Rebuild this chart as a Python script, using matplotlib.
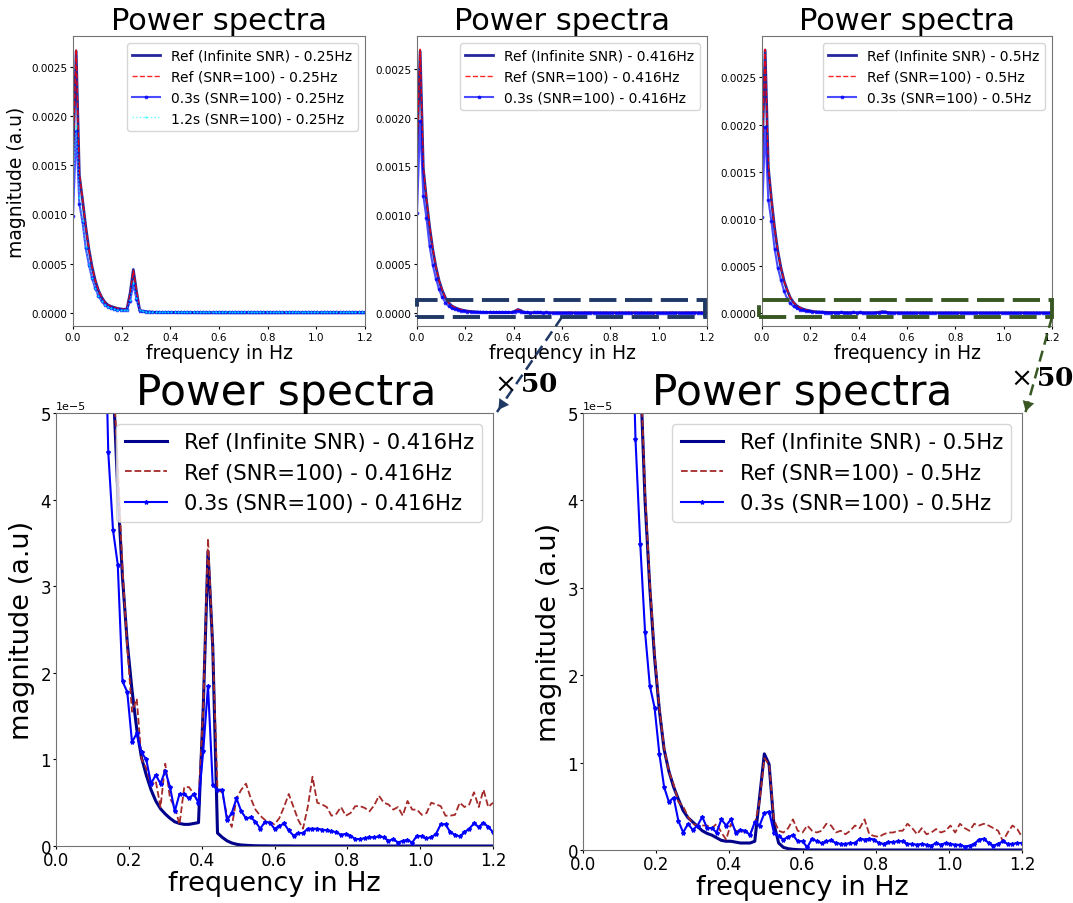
import numpy as np
import matplotlib as mpl
import matplotlib.pyplot as plt
from matplotlib.lines import Line2D
from matplotlib.patches import Rectangle, FancyArrowPatch

mpl.rcParams['mathtext.fontset'] = 'dejavuserif'

W, H = 1073, 904

# frequency grid (Hz) shared by all spectra
freq = np.linspace(0, 1.2, 93)
scale = 1e-5  # magnitudes below are given in units of 1e-5

# ---- 0.25 Hz ----
ref_inf_025 = [160, 266, 140, 115, 88, 65, 47, 33, 23, 16,
               11, 8, 6.5, 5.5, 4.5, 4, 3.5, 4, 20, 44,
               22, 3, 1.5, 1.0, 0.8, 0.6, 0.5, 0.4, 0.3, 0.3,
               0.25, 0.2, 0.2, 0.15, 0.15, 0.1, 0.1, 0.1, 0.1, 0.08,
               0.08, 0.06, 0.05, 0.05, 0.04, 0.03, 0.03, 0.02, 0.02, 0.02,
               0.02, 0.01, 0.01, 0.01, 0.01, 0.01, 0.01, 0.01, 0.01, 0.01,
               0, 0, 0, 0, 0, 0, 0, 0, 0, 0,
               0, 0, 0, 0, 0, 0, 0, 0, 0, 0,
               0, 0, 0, 0, 0, 0, 0, 0, 0, 0,
               0, 0, 0]
ref_snr_025 = [158, 268, 142, 116, 88, 65, 47, 33, 23, 16,
               11, 8, 6.6, 5.5, 4.6, 4, 3.6, 4.2, 19, 43,
               23, 3.2, 1.8, 1.2, 0.9, 0.8, 0.7, 0.6, 0.5, 0.6,
               0.4, 0.5, 0.6, 0.4, 0.5, 0.7, 0.4, 0.5, 0.4, 0.6,
               0.5, 0.4, 0.6, 0.5, 0.4, 0.5, 0.7, 0.5, 0.4, 0.5,
               0.6, 0.4, 0.5, 0.5, 0.6, 0.4, 0.5, 0.7, 0.5, 0.4,
               0.5, 0.6, 0.4, 0.5, 0.5, 0.6, 0.4, 0.5, 0.6, 0.5,
               0.4, 0.5, 0.6, 0.5, 0.7, 0.5, 0.4, 0.5, 0.5, 0.6,
               0.5, 0.4, 0.5, 0.6, 0.5, 0.4, 0.6, 0.5, 0.5, 0.4,
               0.5, 0.6, 0.5]
win03_025 = [98, 185, 111, 92, 66, 49, 35, 25, 17, 12,
             8, 6, 4.5, 3.5, 3, 3, 2.5, 3, 12, 29,
             14, 2, 1.5, 1.2, 1.0, 0.9, 0.8, 0.9, 0.7, 0.8,
             0.7, 0.8, 0.6, 0.7, 0.8, 0.6, 0.7, 0.7, 0.6, 0.8,
             0.7, 0.6, 0.7, 0.8, 0.6, 0.7, 0.6, 0.7, 0.6, 0.6,
             0.7, 0.6, 0.5, 0.6, 0.7, 0.6, 0.5, 0.6, 0.6, 0.5,
             0.6, 0.5, 0.6, 0.5, 0.6, 0.5, 0.5, 0.6, 0.5, 0.5,
             0.5, 0.6, 0.5, 0.5, 0.4, 0.5, 0.5, 0.4, 0.5, 0.5,
             0.4, 0.5, 0.5, 0.4, 0.5, 0.4, 0.4, 0.5, 0.4, 0.4,
             0.5, 0.4, 0.4]
win12_025 = [125, 190, 118, 93, 67, 49, 35, 25, 17, 12,
             8.2, 6, 4.6, 3.6, 3.0, 2.8, 2.6, 3.2, 13, 30,
             15, 2.5, 1.6, 1.2, 1.0, 0.9, 0.9, 0.8, 0.8, 0.9,
             0.8, 0.9, 0.8, 0.8, 0.9, 0.8, 0.7, 0.8, 0.9, 0.8,
             0.8, 0.7, 0.8, 0.9, 0.8, 0.8, 0.7, 0.8, 0.8, 0.9,
             0.8, 0.8, 0.7, 0.8, 0.8, 0.9, 0.8, 0.7, 0.8, 0.8,
             0.7, 0.8, 0.8, 0.7, 0.8, 0.8, 0.7, 0.8, 0.7, 0.8,
             0.8, 0.7, 0.8, 0.7, 0.8, 0.7, 0.7, 0.8, 0.7, 0.8,
             0.7, 0.8, 0.7, 0.7, 0.8, 0.7, 0.7, 0.8, 0.7, 0.7,
             0.7, 0.8, 0.7]

# ---- 0.416 Hz ----
ref_inf_0416 = [165, 268, 148, 116, 88, 65, 47, 33, 23, 15.5,
                10.5, 7.2, 5.4, 4.1, 3.1, 2.35, 1.8, 1.35, 1.02, 0.82,
                0.65, 0.52, 0.43, 0.37, 0.32, 0.28, 0.26, 0.25, 0.25, 0.26,
                0.27, 1.6, 3.4, 2.3, 0.15, 0.10, 0.06, 0.035, 0.02, 0.012,
                0.008, 0.005, 0.003, 0.002, 0.002, 0.001, 0.001, 0.001, 0.001, 0.001,
                0, 0, 0, 0, 0, 0, 0, 0, 0, 0,
                0, 0, 0, 0, 0, 0, 0, 0, 0, 0,
                0, 0, 0, 0, 0, 0, 0, 0, 0, 0,
                0, 0, 0, 0, 0, 0, 0, 0, 0, 0,
                0, 0, 0]
ref_snr_0416 = [160, 270, 150, 117, 89, 66, 47, 33, 23, 15.6,
                10.6, 7.3, 5.5, 4.4, 3.2, 2.3, 1.55, 1.7, 1.0, 0.9,
                0.7, 0.75, 0.45, 0.95, 0.55, 0.45, 0.25, 0.68, 0.68, 0.6,
                0.5, 1.6, 3.55, 2.3, 0.65, 0.62, 0.35, 0.22, 0.55, 0.65,
                0.72, 0.55, 0.42, 0.35, 0.3, 0.28, 0.25, 0.32, 0.45, 0.6,
                0.45, 0.3, 0.2, 0.45, 0.8, 0.5, 0.48, 0.45, 0.35, 0.37,
                0.45, 0.35, 0.38, 0.46, 0.46, 0.44, 0.4, 0.47, 0.58, 0.5,
                0.48, 0.42, 0.45, 0.35, 0.52, 0.42, 0.42, 0.36, 0.38, 0.5,
                0.48, 0.46, 0.35, 0.35, 0.36, 0.5, 0.45, 0.48, 0.62, 0.45,
                0.65, 0.45, 0.5]
win03_0416 = [102, 196, 120, 97, 68, 49, 35, 24, 16, 10.5,
              7.0, 4.55, 3.65, 3.25, 1.9, 1.78, 1.2, 1.3, 1.08, 1.0,
              0.72, 0.82, 0.72, 0.87, 0.68, 0.4, 0.6, 0.6, 0.55, 0.6,
              0.5, 1.1, 1.85, 0.7, 0.65, 0.65, 0.3, 0.38, 0.55, 0.4,
              0.32, 0.33, 0.28, 0.2, 0.28, 0.27, 0.2, 0.23, 0.26, 0.18,
              0.12, 0.15, 0.15, 0.2, 0.2, 0.2, 0.19, 0.18, 0.17, 0.16,
              0.13, 0.14, 0.12, 0.08, 0.08, 0.09, 0.1, 0.1, 0.11, 0.1,
              0.06, 0.08, 0.04, 0.06, 0.07, 0.04, 0.12, 0.11, 0.09, 0.1,
              0.14, 0.25, 0.25, 0.16, 0.13, 0.11, 0.16, 0.2, 0.26, 0.22,
              0.27, 0.22, 0.16]

# ---- 0.5 Hz ----
ref_inf_05 = [165, 279, 155, 120, 90, 66, 48, 34, 24, 16,
              11, 7.5, 5.5, 4.0, 3.0, 2.2, 1.6, 1.15, 0.9, 0.72,
              0.58, 0.45, 0.37, 0.32, 0.27, 0.22, 0.19, 0.17, 0.14, 0.11,
              0.10, 0.10, 0.09, 0.08, 0.08, 0.08, 0.1, 0.6, 1.1, 0.98,
              0.3, 0.08, 0.03, 0.015, 0.008, 0.004, 0.002, 0.001, 0.001, 0.001,
              0, 0, 0, 0, 0, 0, 0, 0, 0, 0,
              0, 0, 0, 0, 0, 0, 0, 0, 0, 0,
              0, 0, 0, 0, 0, 0, 0, 0, 0, 0,
              0, 0, 0, 0, 0, 0, 0, 0, 0, 0,
              0, 0, 0]
ref_snr_05 = [160, 280, 155, 120, 90, 66, 48, 34, 24, 16,
              11, 7.5, 5.6, 4.1, 3.05, 2.25, 1.62, 1.17, 0.9, 0.75,
              0.55, 0.5, 0.38, 0.3, 0.28, 0.28, 0.28, 0.25, 0.3, 0.2,
              0.12, 0.3, 0.22, 0.2, 0.22, 0.18, 0.3, 0.55, 1.05, 0.98,
              0.35, 0.22, 0.2, 0.25, 0.35, 0.22, 0.2, 0.28, 0.22, 0.2,
              0.22, 0.3, 0.28, 0.2, 0.22, 0.18, 0.22, 0.28, 0.25, 0.35,
              0.18, 0.16, 0.15, 0.18, 0.2, 0.2, 0.22, 0.22, 0.3, 0.25,
              0.18, 0.25, 0.18, 0.2, 0.24, 0.2, 0.22, 0.28, 0.2, 0.3,
              0.25, 0.22, 0.3, 0.28, 0.3, 0.28, 0.25, 0.22, 0.1, 0.2,
              0.28, 0.24, 0.15]
win03_05 = [102, 197, 120, 97, 68, 48, 35, 23, 15, 10,
            6.8, 4.7, 3.5, 2.5, 1.88, 1.63, 1.1, 0.72, 0.55, 0.6,
            0.33, 0.2, 0.3, 0.23, 0.28, 0.38, 0.25, 0.25, 0.2, 0.35,
            0.28, 0.35, 0.2, 0.23, 0.22, 0.17, 0.32, 0.28, 0.42, 0.44,
            0.2, 0.16, 0.12, 0.15, 0.17, 0.1, 0.1, 0.03, 0.13, 0.1,
            0.08, 0.1, 0.11, 0.08, 0.07, 0.07, 0.08, 0.08, 0.13, 0.12,
            0.13, 0.12, 0.08, 0.07, 0.09, 0.09, 0.1, 0.1, 0.07, 0.07,
            0.06, 0.07, 0.06, 0.05, 0.08, 0.06, 0.08, 0.07, 0.06, 0.06,
            0.04, 0.05, 0.07, 0.12, 0.13, 0.08, 0.05, 0.07, 0.1, 0.07,
            0.07, 0.08, 0.08]

fig = plt.figure(figsize=(W / 100, H / 100), dpi=100)


def add_ax(left, top, right, bottom):
    # axes placed by pixel edges
    return fig.add_axes([left / W, 1 - bottom / H, (right - left) / W, (bottom - top) / H])


def style(ax, tick_fs, ticklen, tickpad):
    for sp in ax.spines.values():
        sp.set_color("0.45")
    ax.tick_params(labelsize=tick_fs, length=ticklen, pad=tickpad)
    ax.set_xlim(0, 1.2)


def arr(v):
    return np.asarray(v) * scale


# ---------------- top row ----------------
top_sets = [
    (73, 365, "0.25Hz", ref_inf_025, ref_snr_025, win03_025, win12_025),
    (417, 707, "0.416Hz", ref_inf_0416, ref_snr_0416, win03_0416, None),
    (762, 1052, "0.5Hz", ref_inf_05, ref_snr_05, win03_05, None),
]
for i, (l, r, hz, ref_inf, ref_snr, w03, w12) in enumerate(top_sets):
    ax = add_ax(l, 37, r, 327)
    ax.plot(freq, arr(ref_inf), color="darkblue", lw=2, alpha=0.85,
            label="Ref (Infinite SNR) - " + hz)
    ax.plot(freq, arr(ref_snr), color="red", lw=1, ls="--", alpha=0.85,
            label="Ref (SNR=100) - " + hz)
    ax.plot(freq, arr(w03), color="blue", lw=1.5, alpha=0.7, marker="*", ms=2.5,
            label="0.3s (SNR=100) - " + hz)
    if w12 is not None:
        ax.plot(freq, arr(w12), color="cyan", lw=1, ls=":", alpha=0.6, marker=".", ms=1.5,
                label="1.2s (SNR=100) - " + hz)
    style(ax, 7.5, 2.5, 1.5)
    ax.set_title("Power spectra", fontsize=22, pad=5)
    ax.set_xlabel("frequency in Hz", fontsize=13.5, labelpad=1)
    if i == 0:
        ax.set_ylabel("magnitude (a.u)", fontsize=13.5, labelpad=4)
    ax.legend(loc="upper right", fontsize=10)

# ---------------- bottom row (x50 zoom) ----------------
bottom_sets = [
    (56, 493, 847, 0.527, "0.416Hz", ref_inf_0416, ref_snr_0416, win03_0416),
    (583, 1022, 851, 0.5, "0.5Hz", ref_inf_05, ref_snr_05, win03_05),
]
for l, r, b, tx, hz, ref_inf, ref_snr, w03 in bottom_sets:
    ax = add_ax(l, 414, r, b)
    ax.plot(freq, arr(ref_inf), color="darkblue", lw=2.2,
            label="Ref (Infinite SNR) - " + hz)
    ax.plot(freq, arr(ref_snr), color="brown", lw=1.3, ls="--",
            label="Ref (SNR=100) - " + hz)
    ax.plot(freq, arr(w03), color="blue", lw=1.5, marker="*", ms=3,
            label="0.3s (SNR=100) - " + hz)
    style(ax, 12, 2, 1.5)
    ax.set_ylim(0, 5e-5)
    ax.yaxis.get_offset_text().set_fontsize(8)
    ax.set_title("Power spectra", fontsize=30.5, pad=5, x=tx)
    ax.set_xlabel("frequency in Hz", fontsize=19.5, labelpad=1)
    ax.set_ylabel("magnitude (a.u)", fontsize=19.5, labelpad=4)
    ax.legend(loc="upper right", fontsize=15.2)

# ---------------- zoom boxes, arrows and x50 labels ----------------
def fx(x):
    return x / W


def fy(y):
    return 1 - y / H


zooms = [
    ("#203864", (417, 301, 705, 318), (562, 318), (497, 413), (494, 385)),
    ("#385723", (759, 301, 1052, 318), (1052, 318), (1025, 415), (1010, 379)),
]
for col, (x0, y0, x1, y1), (ax0, ay0), (ax1, ay1), (tx, ty) in zooms:
    fig.add_artist(Rectangle((fx(x0), fy(y1)), fx(x1) - fx(x0), fy(y0) - fy(y1),
                             transform=fig.transFigure, fill=False, edgecolor=col,
                             lw=2.8, linestyle=(0, (7, 2.2)), zorder=10))
    fig.add_artist(Line2D([fx(ax0), fx(ax1)], [fy(ay0), fy(ay1)],
                          transform=fig.transFigure, color=col, lw=1.8,
                          linestyle=(0, (4.5, 2.5)), zorder=10))
    # short solid segment carrying the arrow head
    hx = ax0 + (ax1 - ax0) * 0.9
    hy = ay0 + (ay1 - ay0) * 0.9
    fig.add_artist(FancyArrowPatch((fx(hx), fy(hy)), (fx(ax1), fy(ay1)),
                                   transform=fig.transFigure, color=col,
                                   arrowstyle="-|>,head_length=0.5,head_width=0.3",
                                   mutation_scale=14, lw=0.1, zorder=11))
    fig.text(fx(tx), fy(ty), r"$\times\,\mathbf{50}$", fontsize=19,
             ha="left", va="center", zorder=12)

fig.savefig("out.png", dpi=100, facecolor="white")
